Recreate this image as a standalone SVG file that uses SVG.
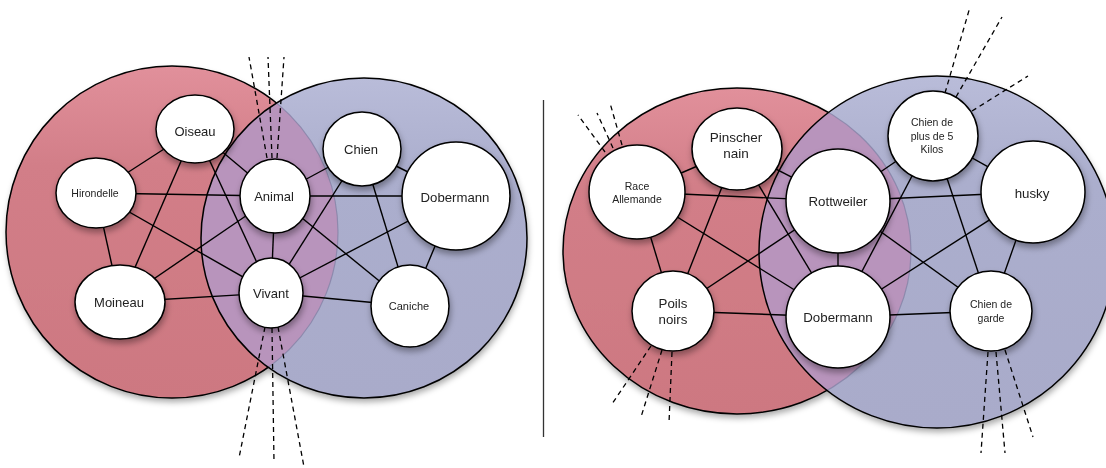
<svg xmlns="http://www.w3.org/2000/svg" width="1106" height="468" viewBox="0 0 1106 468">
<defs>
<style>
.edge{stroke:#000;stroke-width:1.4;fill:none}
.dash{stroke:#000;stroke-width:1.3;stroke-dasharray:5 4;fill:none}
.node{fill:#fff;stroke:#000;stroke-width:1.5}
.ring{fill:none;stroke:#000;stroke-width:1.5}
.soft{fill:none;stroke:#7f7fa3;stroke-width:1.2;stroke-opacity:.7}
.t{font-family:"Liberation Sans",Arial,sans-serif;fill:#222;text-anchor:middle}
</style>
<linearGradient id="gRed" x1="0" y1="0" x2="0" y2="1">
<stop offset="0" stop-color="#e1909b"/><stop offset="0.3" stop-color="#d27e88"/><stop offset="1" stop-color="#cd7881"/>
</linearGradient>
<linearGradient id="gBlue" x1="0" y1="0" x2="0" y2="1">
<stop offset="0" stop-color="#b9bcd9"/><stop offset="0.3" stop-color="#abaecd"/><stop offset="1" stop-color="#a9abca"/>
</linearGradient>
<filter id="sh" x="-20%" y="-20%" width="140%" height="140%">
<feDropShadow dx="1" dy="4" stdDeviation="3" flood-color="#000" flood-opacity="0.35"/>
</filter>
<clipPath id="cRedL"><circle cx="172" cy="232" r="166"/></clipPath>
<clipPath id="cOutBlueL"><path clip-rule="evenodd" d="M0 0H1106V468H0Z M201 238a163 160 0 1 0 326 0a163 160 0 1 0 -326 0Z"/></clipPath>
<clipPath id="cInBlueL"><ellipse cx="364" cy="238" rx="163" ry="160"/></clipPath>
<clipPath id="cRedR"><ellipse cx="737" cy="251" rx="174" ry="163"/></clipPath>
<clipPath id="cOutBlueR"><path clip-rule="evenodd" d="M0 0H1106V468H0Z M759 252a178 176 0 1 0 356 0a178 176 0 1 0 -356 0Z"/></clipPath>
<clipPath id="cInBlueR"><ellipse cx="937" cy="252" rx="178" ry="176"/></clipPath>
</defs>
<rect width="1106" height="468" fill="#fff"/>

<g id="sets-left">
<g filter="url(#sh)">
<circle cx="172" cy="232" r="166" fill="url(#gRed)"/>
<ellipse cx="364" cy="238" rx="163" ry="160" fill="url(#gBlue)"/>
</g>
<ellipse cx="364" cy="238" rx="163" ry="160" fill="#b894bc" clip-path="url(#cRedL)"/>
<circle cx="172" cy="232" r="166" class="ring" clip-path="url(#cOutBlueL)"/>
<circle cx="172" cy="232" r="166" class="soft" clip-path="url(#cInBlueL)"/>
<ellipse cx="364" cy="238" rx="163" ry="160" class="ring"/>
</g>

<g id="sets-right">
<g filter="url(#sh)">
<ellipse cx="737" cy="251" rx="174" ry="163" fill="url(#gRed)"/>
<ellipse cx="937" cy="252" rx="178" ry="176" fill="url(#gBlue)"/>
</g>
<ellipse cx="937" cy="252" rx="178" ry="176" fill="#b894bc" clip-path="url(#cRedR)"/>
<ellipse cx="737" cy="251" rx="174" ry="163" class="ring" clip-path="url(#cOutBlueR)"/>
<ellipse cx="737" cy="251" rx="174" ry="163" class="soft" clip-path="url(#cInBlueR)"/>
<ellipse cx="937" cy="252" rx="178" ry="176" class="ring"/>
</g>

<line id="divider" x1="543.5" y1="100" x2="543.5" y2="437" stroke="#333" stroke-width="1.3"/>

<g id="connectors">
<line class="edge" x1="195" y1="129" x2="96" y2="193"/>
<line class="edge" x1="195" y1="129" x2="275" y2="196"/>
<line class="edge" x1="195" y1="129" x2="271" y2="293"/>
<line class="edge" x1="195" y1="129" x2="120" y2="302"/>
<line class="edge" x1="96" y1="193" x2="275" y2="196"/>
<line class="edge" x1="96" y1="193" x2="120" y2="302"/>
<line class="edge" x1="96" y1="193" x2="271" y2="293"/>
<line class="edge" x1="120" y1="302" x2="275" y2="196"/>
<line class="edge" x1="120" y1="302" x2="271" y2="293"/>
<line class="edge" x1="275" y1="196" x2="271" y2="293"/>
<line class="edge" x1="275" y1="196" x2="362" y2="149"/>
<line class="edge" x1="275" y1="196" x2="456" y2="196"/>
<line class="edge" x1="275" y1="196" x2="410" y2="306"/>
<line class="edge" x1="271" y1="293" x2="362" y2="149"/>
<line class="edge" x1="271" y1="293" x2="456" y2="196"/>
<line class="edge" x1="271" y1="293" x2="410" y2="306"/>
<line class="edge" x1="362" y1="149" x2="456" y2="196"/>
<line class="edge" x1="362" y1="149" x2="410" y2="306"/>
<line class="edge" x1="456" y1="196" x2="410" y2="306"/>

<line class="edge" x1="637" y1="192" x2="737" y2="149"/>
<line class="edge" x1="637" y1="192" x2="838" y2="201"/>
<line class="edge" x1="637" y1="192" x2="673" y2="311"/>
<line class="edge" x1="637" y1="192" x2="838" y2="317"/>
<line class="edge" x1="737" y1="149" x2="673" y2="311"/>
<line class="edge" x1="737" y1="149" x2="838" y2="317"/>
<line class="edge" x1="737" y1="149" x2="838" y2="201"/>
<line class="edge" x1="673" y1="311" x2="838" y2="201"/>
<line class="edge" x1="673" y1="311" x2="838" y2="317"/>
<line class="edge" x1="838" y1="201" x2="838" y2="317"/>
<line class="edge" x1="838" y1="201" x2="933" y2="136"/>
<line class="edge" x1="838" y1="201" x2="1033" y2="192"/>
<line class="edge" x1="838" y1="201" x2="991" y2="311"/>
<line class="edge" x1="838" y1="317" x2="933" y2="136"/>
<line class="edge" x1="838" y1="317" x2="1033" y2="192"/>
<line class="edge" x1="838" y1="317" x2="991" y2="311"/>
<line class="edge" x1="933" y1="136" x2="1033" y2="192"/>
<line class="edge" x1="933" y1="136" x2="991" y2="311"/>
<line class="edge" x1="1033" y1="192" x2="991" y2="311"/>

<line class="dash" x1="267" y1="158" x2="249" y2="57"/>
<line class="dash" x1="272" y1="158" x2="268" y2="57"/>
<line class="dash" x1="277" y1="158" x2="284" y2="57"/>
<line class="dash" x1="265" y1="327" x2="239" y2="458"/>
<line class="dash" x1="272" y1="328" x2="274" y2="462"/>
<line class="dash" x1="278" y1="327" x2="304" y2="467"/>
<line class="dash" x1="605" y1="152" x2="578" y2="115"/>
<line class="dash" x1="613" y1="148" x2="597" y2="113"/>
<line class="dash" x1="622" y1="145" x2="610" y2="103"/>
<line class="dash" x1="945" y1="93" x2="970" y2="7"/>
<line class="dash" x1="956" y1="97" x2="1002" y2="17"/>
<line class="dash" x1="972" y1="111" x2="1028" y2="76"/>
<line class="dash" x1="651" y1="346" x2="612" y2="404"/>
<line class="dash" x1="662" y1="350" x2="641" y2="417"/>
<line class="dash" x1="672" y1="352" x2="669" y2="423"/>
<line class="dash" x1="988" y1="352" x2="981" y2="453"/>
<line class="dash" x1="996" y1="352" x2="1005" y2="453"/>
<line class="dash" x1="1005" y1="350" x2="1033" y2="437"/>
</g>

<g id="oiseau" filter="url(#sh)"><ellipse class="node" cx="195" cy="129" rx="39" ry="34"/><text class="t" x="195" y="135.5" font-size="13">Oiseau</text></g>
<g id="hirondelle" filter="url(#sh)"><ellipse class="node" cx="96" cy="193" rx="40" ry="35"/><text class="t" x="95" y="196.5" font-size="10.5">Hirondelle</text></g>
<g id="animal" filter="url(#sh)"><ellipse class="node" cx="275" cy="196" rx="35" ry="37"/><text class="t" x="274" y="200.5" font-size="13">Animal</text></g>
<g id="chien" filter="url(#sh)"><ellipse class="node" cx="362" cy="149" rx="39" ry="37"/><text class="t" x="361" y="153.5" font-size="13">Chien</text></g>
<g id="dobermann-l" filter="url(#sh)"><ellipse class="node" cx="456" cy="196" rx="54" ry="54"/><text class="t" x="455" y="201.5" font-size="13.2">Dobermann</text></g>
<g id="moineau" filter="url(#sh)"><ellipse class="node" cx="120" cy="302" rx="45" ry="37"/><text class="t" x="119" y="306.5" font-size="13">Moineau</text></g>
<g id="vivant" filter="url(#sh)"><ellipse class="node" cx="271" cy="293" rx="32" ry="35"/><text class="t" x="271" y="297.5" font-size="13">Vivant</text></g>
<g id="caniche" filter="url(#sh)"><ellipse class="node" cx="410" cy="306" rx="39" ry="41"/><text class="t" x="409" y="310" font-size="11">Caniche</text></g>

<g id="race-allemande" filter="url(#sh)"><ellipse class="node" cx="637" cy="192" rx="48" ry="47"/><text class="t" x="637" y="189.5" font-size="10.5">Race</text><text class="t" x="637" y="202.5" font-size="10.5">Allemande</text></g>
<g id="pinscher-nain" filter="url(#sh)"><ellipse class="node" cx="737" cy="149" rx="45" ry="41"/><text class="t" x="736" y="142" font-size="13.5">Pinscher</text><text class="t" x="736" y="158" font-size="13.5">nain</text></g>
<g id="rottweiler" filter="url(#sh)"><ellipse class="node" cx="838" cy="201" rx="52" ry="52"/><text class="t" x="838" y="205.5" font-size="13.3">Rottweiler</text></g>
<g id="chien-5kg" filter="url(#sh)"><ellipse class="node" cx="933" cy="136" rx="45" ry="45"/><text class="t" x="932" y="126" font-size="10.5">Chien de</text><text class="t" x="932" y="140" font-size="10.5">plus de 5</text><text class="t" x="932" y="153" font-size="10.5">Kilos</text></g>
<g id="husky" filter="url(#sh)"><ellipse class="node" cx="1033" cy="192" rx="52" ry="51"/><text class="t" x="1032" y="197.5" font-size="13.3">husky</text></g>
<g id="poils-noirs" filter="url(#sh)"><ellipse class="node" cx="673" cy="311" rx="41" ry="40"/><text class="t" x="673" y="308" font-size="13.3">Poils</text><text class="t" x="673" y="323.5" font-size="13.3">noirs</text></g>
<g id="dobermann-r" filter="url(#sh)"><ellipse class="node" cx="838" cy="317" rx="52" ry="51"/><text class="t" x="838" y="321.5" font-size="13.3">Dobermann</text></g>
<g id="chien-garde" filter="url(#sh)"><ellipse class="node" cx="991" cy="311" rx="41" ry="40"/><text class="t" x="991" y="308" font-size="10.5">Chien de</text><text class="t" x="991" y="321.5" font-size="10.5">garde</text></g>
</svg>
